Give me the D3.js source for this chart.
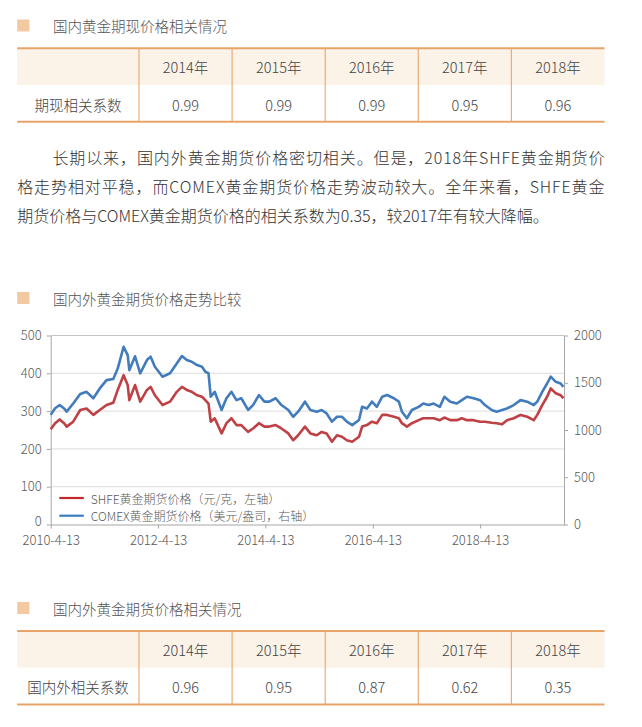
<!DOCTYPE html>
<html>
<head>
<meta charset="utf-8">
<style>
    body { margin: 0; background: #fff; }
    svg { display: block; font-family: 'Noto Sans CJK SC', 'Noto Sans', sans-serif; font-weight: 300; }
    .title { font-size: 14.5px; fill: #555; }
    .para { font-size: 16px; fill: #333; }
    .cell { font-size: 14.5px; fill: #444; }
    .tick text { font-size: 13px; fill: #595959; }
    .legend text { font-size: 12px; fill: #595959; }
</style>
</head>
<body>
<svg width="642" height="727"></svg>

<script src="https://d3js.org/d3.v7.min.js"></script>
<script>
    // ---- data ----
    const years = ["2014年", "2015年", "2016年", "2017年", "2018年"];
    const spotCorr = [0.99, 0.99, 0.99, 0.95, 0.96];
    const crossCorr = [0.96, 0.95, 0.87, 0.62, 0.35];

    const dates = [
        "2010-04-13","2010-05-13","2010-06-13","2010-07-13","2010-07-31","2010-09-13","2010-10-31","2010-12-13",
        "2011-01-28","2011-03-13","2011-04-28","2011-06-13","2011-07-13","2011-08-22","2011-09-19","2011-09-30",
        "2011-11-08","2011-12-13","2012-01-28","2012-02-22","2012-03-22","2012-05-13","2012-07-03","2012-08-18",
        "2012-09-22","2012-10-25","2012-11-28","2013-01-03","2013-02-06","2013-02-28","2013-03-22","2013-04-06",
        "2013-05-03","2013-06-19","2013-07-22","2013-08-25","2013-09-28","2013-10-31","2013-12-16","2014-01-19",
        "2014-02-28","2014-04-06","2014-05-10","2014-06-22","2014-07-31","2014-09-16","2014-10-19","2014-11-22",
        "2015-01-07","2015-02-13","2015-03-28","2015-05-01","2015-06-03","2015-07-10","2015-08-13","2015-09-16",
        "2015-10-19","2015-11-25","2016-01-10","2016-01-31","2016-03-04","2016-04-07","2016-05-10","2016-06-16",
        "2016-07-19","2016-09-03","2016-10-07","2016-10-28","2016-12-01","2017-01-04","2017-02-19","2017-03-22",
        "2017-04-28","2017-06-01","2017-07-13","2017-08-13","2017-09-22","2017-11-06","2017-12-10","2018-01-13",
        "2018-02-28","2018-04-13","2018-05-16","2018-07-01","2018-08-03","2018-09-10","2018-10-13","2018-11-28",
        "2019-01-13","2019-02-28","2019-04-13","2019-05-07","2019-06-10","2019-07-13","2019-08-07","2019-09-10",
        "2019-10-13","2019-11-01"
    ];
    // SHFE 元/克 (left axis)
    const shfe = [
        252, 268, 278, 268, 259, 272, 303, 307,
        290, 303, 316, 322, 356, 395, 369, 329,
        369, 325, 356, 364, 342, 316, 325, 351,
        364, 356, 351, 342, 338, 329, 320, 272,
        281, 241, 268, 281, 263, 263, 245, 254,
        268, 259, 259, 263, 254, 241, 223, 236,
        259, 241, 236, 245, 241, 219, 236, 232,
        223, 219, 232, 259, 263, 272, 268, 290,
        290, 285, 281, 268, 259, 268, 276, 281,
        281, 281, 276, 283, 276, 276, 281, 276,
        276, 272, 272, 269, 268, 265, 276, 281,
        290, 285, 276, 290, 316, 338, 360, 347,
        342, 334
    ];
    // COMEX 美元/盎司 (right axis)
    const comex = [
        1160, 1230, 1264, 1228, 1195, 1280, 1380, 1404,
        1336, 1440, 1528, 1540, 1650, 1880, 1792, 1633,
        1780, 1600, 1740, 1776, 1669, 1564, 1600, 1704,
        1782, 1740, 1722, 1687, 1669, 1616, 1600, 1352,
        1404, 1212, 1336, 1404, 1316, 1336, 1212, 1264,
        1370, 1300, 1300, 1336, 1264, 1212, 1140, 1194,
        1300, 1212, 1194, 1212, 1176, 1088, 1140, 1140,
        1088, 1052, 1105, 1245, 1228, 1300, 1245, 1352,
        1370, 1336, 1300, 1194, 1124, 1212, 1245, 1280,
        1264, 1280, 1245, 1352, 1300, 1280, 1316, 1352,
        1336, 1316, 1264, 1212, 1194, 1212, 1228, 1264,
        1316, 1300, 1264, 1300, 1404, 1492, 1564, 1510,
        1492, 1457
    ];

    const leftTicks = [0, 100, 200, 300, 400, 500];
    const rightTicks = [0, 500, 1000, 1500, 2000];
    const xTickDates = ["2010-04-13", "2012-04-13", "2014-04-13", "2016-04-13", "2018-04-13"];
    const xTickLabels = ["2010-4-13", "2012-4-13", "2014-4-13", "2016-4-13", "2018-4-13"];
    const seriesNames = ["SHFE黄金期货价格（元/克，左轴）", "COMEX黄金期货价格（美元/盎司，右轴）"];

    const paragraph = [
        "长期以来，国内外黄金期货价格密切相关。但是，2018年SHFE黄金期货价",
        "格走势相对平稳，而COMEX黄金期货价格走势波动较大。全年来看，SHFE黄金",
        "期货价格与COMEX黄金期货价格的相关系数为0.35，较2017年有较大降幅。"
    ];

    // ---- page ----
    let svg = d3.select("svg");
    let parse = d3.timeParse("%Y-%m-%d");

    const orange = "#e8a468";
    const red = "#bf4045";
    const blue = "#437cbc";

    function sectionTitle(cy, label) {
        svg.append("rect")
            .attr("x", 17.2).attr("y", cy - 6)
            .attr("width", 12.2).attr("height", 12)
            .attr("fill", "#f2c9a1");
        svg.append("text")
            .attr("class", "title")
            .attr("x", 53).attr("y", cy)
            .attr("dominant-baseline", "central")
            .text(label);
    }

    let colX = d3.scaleBand()
        .domain(years)
        .range([139, 604.5]);

    function drawTable(y0, rowLabel, values) {
        let g = svg.append("g");
        g.append("rect")
            .attr("x", 17.2).attr("y", y0)
            .attr("width", 604.5 - 17.2).attr("height", 36.7)
            .attr("fill", "#fbf2e8");

        g.selectAll(".vline")
            .data(years)
            .join("line")
            .attr("x1", d => colX(d)).attr("x2", d => colX(d))
            .attr("y1", y0).attr("y2", y0 + 73.5)
            .attr("stroke", "#e9ad78")
            .attr("stroke-width", 1.2);

        [y0, y0 + 73.5].forEach(y => {
            g.append("line")
                .attr("x1", 17.2).attr("x2", 604.5)
                .attr("y1", y).attr("y2", y)
                .attr("stroke", orange)
                .attr("stroke-width", 2);
        });

        g.selectAll(".head")
            .data(years)
            .join("text")
            .attr("class", "cell")
            .attr("x", d => colX(d) + colX.bandwidth() / 2)
            .attr("y", y0 + 18.6)
            .attr("text-anchor", "middle")
            .attr("dominant-baseline", "central")
            .text(d => d);

        g.append("text")
            .attr("class", "cell")
            .attr("x", (17.2 + 139) / 2)
            .attr("y", y0 + 55.8)
            .attr("text-anchor", "middle")
            .attr("dominant-baseline", "central")
            .text(rowLabel);

        g.selectAll(".val")
            .data(values)
            .join("text")
            .attr("class", "cell")
            .attr("x", (d, i) => colX(years[i]) + colX.bandwidth() / 2)
            .attr("y", y0 + 55.8)
            .attr("text-anchor", "middle")
            .attr("dominant-baseline", "central")
            .text(d => d3.format(".2f")(d));
    }

    sectionTitle(25.5, "国内黄金期现价格相关情况");
    drawTable(48.3, "期现相关系数", spotCorr);

    // paragraph, justified like the source
    let lineBox = [[52.4, 604.5, true], [17.2, 604.5, true], [17.2, 550, false]];
    svg.selectAll(".para")
        .data(paragraph)
        .join("text")
        .attr("class", "para")
        .attr("x", (d, i) => lineBox[i][0])
        .attr("y", (d, i) => 156.7 + i * 29.2)
        .attr("dominant-baseline", "central")
        .each(function (d, i) {
            if (lineBox[i][2]) {
                d3.select(this)
                    .attr("textLength", lineBox[i][1] - lineBox[i][0])
                    .attr("lengthAdjust", "spacing");
            }
        })
        .text(d => d);

    sectionTitle(298, "国内外黄金期货价格走势比较");

    // ---- chart ----
    let plotLeft = 50.7, plotRight = 564, plotTop = 335.5, plotBottom = 524.5;

    let x = d3.scaleTime()
        .domain([parse("2010-04-13"), parse("2019-11-05")])
        .range([plotLeft, plotRight]);

    let yL = d3.scaleLinear().domain([0, 500]).range([plotBottom, plotTop]);
    let yR = d3.scaleLinear().domain([0, 2000]).range([plotBottom, plotTop]);

    let chart = svg.append("g");

    chart.selectAll(".grid")
        .data(leftTicks.slice(1))
        .join("line")
        .attr("x1", plotLeft).attr("x2", plotRight)
        .attr("y1", d => yL(d)).attr("y2", d => yL(d))
        .attr("stroke", d => d === 500 ? "#c4c4c4" : "#dcdcdc")
        .attr("stroke-width", 1);

    let axisL = chart.append("g")
        .attr("transform", `translate(${plotLeft},0)`)
        .call(d3.axisLeft(yL).tickValues(leftTicks).tickSize(4).tickSizeOuter(0).tickPadding(5));

    let axisR = chart.append("g")
        .attr("transform", `translate(${plotRight},0)`)
        .call(d3.axisRight(yR).tickValues(rightTicks).tickFormat(d3.format("d"))
            .tickSize(4).tickSizeOuter(0).tickPadding(6));

    let axisB = chart.append("g")
        .attr("transform", `translate(0,${plotBottom})`)
        .call(d3.axisBottom(x)
            .tickValues(xTickDates.map(parse))
            .tickFormat((d, i) => xTickLabels[i])
            .tickSize(4).tickSizeOuter(0).tickPadding(7));

    [axisL, axisR, axisB].forEach(a => {
        a.attr("font-family", null).attr("font-size", null);
        a.selectAll("path, line").attr("stroke", "#a6a6a6");
    });
    // lift the 0 label a little so it clears the date labels below
    axisL.selectAll(".tick text").filter(d => d === 0).attr("dy", "0.05em");

    let rows = dates.map((d, i) => ({ date: parse(d), shfe: shfe[i], comex: comex[i] }));

    chart.append("path")
        .datum(rows)
        .attr("fill", "none")
        .attr("stroke", red)
        .attr("stroke-width", 2.6)
        .attr("stroke-linejoin", "round")
        .attr("d", d3.line().x(d => x(d.date)).y(d => yL(d.shfe)));

    chart.append("path")
        .datum(rows)
        .attr("fill", "none")
        .attr("stroke", blue)
        .attr("stroke-width", 2.6)
        .attr("stroke-linejoin", "round")
        .attr("d", d3.line().x(d => x(d.date)).y(d => yR(d.comex)));

    // legend
    let legend = chart.append("g").attr("class", "legend");
    legend.selectAll("g")
        .data(seriesNames)
        .join("g")
        .attr("transform", (d, i) => `translate(59.3,${498 + i * 17.7})`)
        .each(function (d, i) {
            let g = d3.select(this);
            g.append("line")
                .attr("x1", 0).attr("x2", 24.5)
                .attr("stroke", i === 0 ? "#c0282d" : "#3a7dc4")
                .attr("stroke-width", 2.2);
            g.append("text")
                .attr("x", 31.5)
                .attr("dominant-baseline", "central")
                .text(d);
        });

    sectionTitle(608, "国内外黄金期货价格相关情况");
    drawTable(631, "国内外相关系数", crossCorr);
</script>
</body>
</html>
